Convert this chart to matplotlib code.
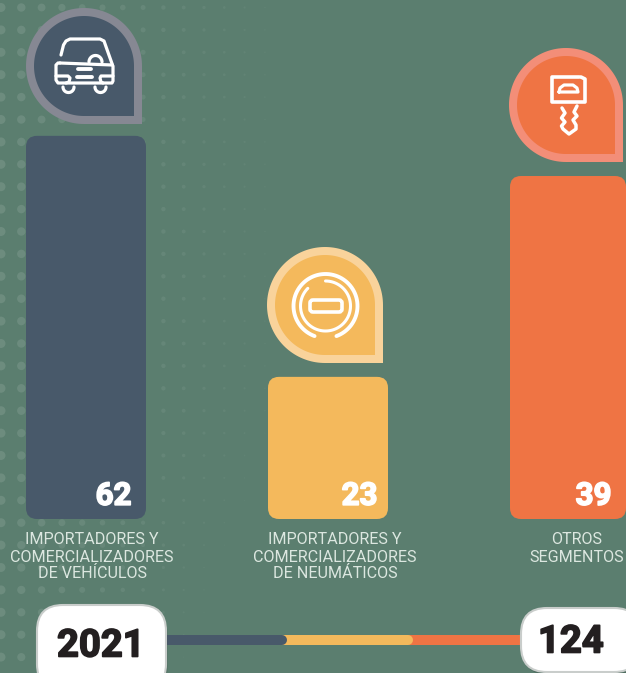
import numpy as np
import matplotlib
matplotlib.use("Agg")
import matplotlib.pyplot as plt
from matplotlib.patches import FancyBboxPatch, PathPatch
from matplotlib.path import Path
import matplotlib.patheffects as pe

# ---- data ----
categories = [["IMPORTADORES Y", "COMERCIALIZADORES", "DE VEHÍCULOS"],
              ["IMPORTADORES Y", "COMERCIALIZADORES", "DE NEUMÁTICOS"],
              ["OTROS", "SEGMENTOS"]]
values = [62, 23, 39]
drawn_heights = [62, 23, 55.5]   # the source graphic draws the third bar taller than its value
year = "2021"
total = "124"

BG = "#5B7E6F"
bar_colors = ["#48596A", "#F4B95C", "#EF7444"]
ring_colors = ["#868893", "#F9D39B", "#F38E78"]
bar_lefts = [26, 268, 510]
bar_widths = [120, 120, 116]
label_x = [92, 335, 577]
value_right = [132, 378, 612]
pin_centers = [(84, 66), (325, 305), (566, 105)]
pin_radii = [58, 58, 57]
seg_edges = [140, 282, 408, 530]

W, H = 626, 673
BASE, PX_PER_UNIT = 519, 6.18
LABEL_FONT = ["Roboto", "DejaVu Sans"]

fig = plt.figure(figsize=(W / 100, H / 100), dpi=100, facecolor=BG)

# background + decoration layer, in pixel coordinates
bg = fig.add_axes([0, 0, 1, 1], zorder=0)
bg.set_xlim(0, W); bg.set_ylim(H, 0); bg.axis("off")

# bars layer, in value units
ax = fig.add_axes([0, 0, 1, 1], zorder=1)
ax.set_xlim(0, W)
ax.set_ylim((BASE - H) / PX_PER_UNIT, BASE / PX_PER_UNIT)
ax.axis("off"); ax.patch.set_alpha(0)

# top layer, in pixel coordinates
top = fig.add_axes([0, 0, 1, 1], zorder=2)
top.set_xlim(0, W); top.set_ylim(H, 0); top.axis("off"); top.patch.set_alpha(0)

# dotted texture
for j, yy in enumerate(np.arange(7.5, 670, 22.4)):
    fade_y = 1 - 0.35 * max(0, yy - 400) / 270
    xs = np.arange(1, 300, 20.3)
    fr = np.clip(1 - xs / (285 * fade_y), 0, 1)
    sizes = (0.72 * (1.0 + 8.0 * fr))**2
    cols = [(1, 1, 1, 0.03 + 0.08 * f) if f > 0 else (1, 1, 1, 0) for f in fr]
    bg.scatter(xs, np.full_like(xs, yy), s=sizes, c=cols, linewidths=0)

# bars
for i in range(3):
    rect = ax.bar(bar_lefts[i], drawn_heights[i], width=bar_widths[i], align="edge", alpha=0)[0]
    ax.add_patch(FancyBboxPatch((rect.get_x(), rect.get_y()), rect.get_width(), rect.get_height(),
                                boxstyle="round,pad=0,rounding_size=11",
                                mutation_aspect=1 / PX_PER_UNIT,
                                fc=bar_colors[i], ec="none"))
    ax.text(value_right[i] - 0.5, 3.75, str(values[i]), ha="right", va="center",
            color="white", fontsize=22.5, family=["Roboto", "DejaVu Sans"], fontweight="bold",
            path_effects=[pe.withStroke(linewidth=1.2, foreground="white")])
    for k, line in enumerate(categories[i]):
        top.text(label_x[i], 540 + 17 * k, line, ha="center", va="center", color="#DCE7E0",
                 fontsize=11.6, family=LABEL_FONT)


def pin_path(cx, cy, r, c):
    t = np.radians(np.linspace(0, 270, 120))
    pts = np.column_stack([cx + r * np.cos(t), cy - r * np.sin(t)])
    pts = np.vstack([pts, [cx + c, cy + c], pts[0]])
    return Path(pts, closed=True)


for (cx, cy), r, rc, bc in zip(pin_centers, pin_radii, ring_colors, bar_colors):
    top.add_patch(PathPatch(pin_path(cx, cy, r, r), fc=rc, ec="none"))
    top.add_patch(PathPatch(pin_path(cx, cy, r - 8, r - 8), fc=bc, ec="none"))

LW = 2.3


def stroke(xs, ys, lw=LW):
    top.plot(xs, ys, color="white", lw=lw, solid_capstyle="round", solid_joinstyle="round")


def box(x, y, w, h, r, lw=LW):
    top.add_patch(FancyBboxPatch((x, y), w, h, boxstyle=f"round,pad=0,rounding_size={r}",
                                 fc="none", ec="white", lw=lw))


def arc(cx, cy, r, a0, a1, lw=LW):
    t = np.radians(np.linspace(a0, a1, 80))
    stroke(cx + r * np.cos(t), cy - r * np.sin(t), lw)


# car icon
stroke([61, 63.5, 66, 70, 100, 104, 112.5], [55, 45, 41, 39, 39, 41, 65])
arc(95.5, 62, 6.5, 0, 180)
stroke([60, 112.5], [63, 65])
stroke([60, 58, 56, 56, 58, 112, 113, 113], [63, 63, 65, 80, 83, 83, 81, 66])
stroke([56, 68, 70, 69, 66], [76, 76, 78, 82, 83])
stroke([113, 101, 100, 101, 103], [76, 76, 78, 82, 83])
arc(68.5, 87, 5.5, 180, 360)
arc(100.5, 87, 5.5, 180, 360)
stroke([78, 91], [69, 69], 2.8); stroke([77, 92], [77, 77], 2.8)

# tyre icon
arc(325.5, 306, 32, -70, 250, 2.8)
arc(325.5, 306, 25, -225, 90, 2.2)
box(310, 300, 32, 12, 3, 2.6)

# key icon
stroke([579, 552, 552, 585, 585, 581], [77, 77, 102, 102, 79, 77], 2.6)
stroke([559, 560, 564, 573, 577, 578, 559], [92, 88, 85, 85, 88, 92, 92])
stroke([562, 565, 561.5, 565, 561.5, 563, 569, 576, 576, 573, 577, 574, 577],
       [108, 113, 118, 122, 126, 129, 134, 129, 125, 120, 116, 112, 106], 2.5)

# progress line
for i in range(3)[::-1]:
    top.plot([seg_edges[i], seg_edges[i + 1]], [640, 640], color=bar_colors[i], lw=7.2,
             solid_capstyle="round" if i < 2 else "butt", zorder=3)


# bottom pills
def pill(x0, x1, y0, y1, text, tx, ty):
    top.add_patch(FancyBboxPatch((x0 + 1.5, y0 + 3), x1 - x0, y1 - y0,
                                 boxstyle="round,pad=0,rounding_size=26",
                                 fc=(0, 0, 0, 0.13), ec="none", zorder=4))
    top.add_patch(FancyBboxPatch((x0, y0), x1 - x0, y1 - y0,
                                 boxstyle="round,pad=0,rounding_size=26",
                                 fc="white", ec="#C9CDCB", lw=1.5, zorder=5))
    top.text(tx, ty, text, ha="center", va="center", color="#231F20", fontsize=27.5,
             family=LABEL_FONT, fontweight="bold", zorder=6,
             path_effects=[pe.withStroke(linewidth=1.2, foreground="#231F20")])


pill(37, 166, 605, 690, year, 101, 646)
pill(521, 640, 608, 672, total, 571, 642)

fig.savefig("out.png", dpi=100, facecolor=BG)
